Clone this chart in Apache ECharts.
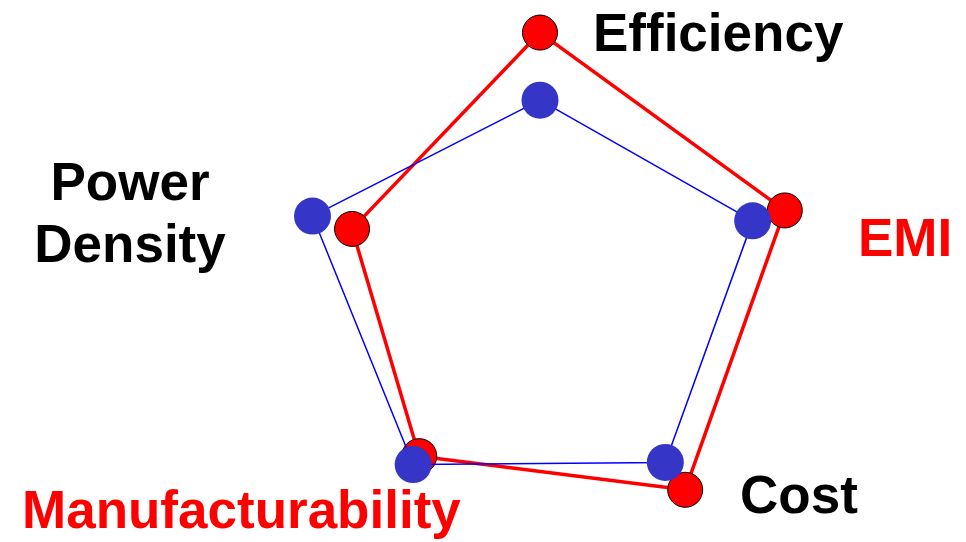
<!DOCTYPE html>
<html lang="en">
<head>
    <meta charset="UTF-8">
    <title>Radar comparison</title>
    <script src="https://cdn.jsdelivr.net/npm/echarts@6.0.0/dist/echarts.min.js"></script>
    <style>
        body, html {
            margin: 0;
            padding: 0;
            width: 100%;
            height: 100%;
            background-color: #fff;
            overflow: hidden;
        }
        #main {
            width: 966px;
            height: 542px;
        }
    </style>
</head>
<body>
    <div id="main"></div>
    <script>
        // axes in ECharts order (counter-clockwise from the top)
        const indicators = ['Efficiency', 'Power Density', 'Manufacturability', 'Cost', 'EMI'];
        const redValues = [99, 76, 79, 95, 99];
        const blueValues = [73, 92, 83, 82, 86];

        // label colours (one per axis)
        const labelColors = ['#000', '#000', '#ff0000', '#000', '#ff0000'];

        var myChart = echarts.init(document.getElementById('main'));

        const labelFont = 'bold 53px "Liberation Sans", Arial, sans-serif';

        // axis names sit off the ends like in the slide, so draw them as text
        const labelPos = [
            { x: 593, y: 36, align: 'left' },
            { x: 130, y: 216, align: 'center' },
            { x: 22, y: 513, align: 'left' },
            { x: 740, y: 498, align: 'left' },
            { x: 858, y: 241, align: 'left' }
        ];

        const option = {
            backgroundColor: '#fff',
            radar: {
                center: ['55.9%', '53.5%'],
                radius: 260,
                startAngle: 90,
                shape: 'polygon',
                indicator: indicators.map(name => ({ name: name, min: 0, max: 100 })),
                axisName: { show: false },
                axisLine: { show: false },
                axisTick: { show: false },
                axisLabel: { show: false },
                splitLine: { show: false },
                splitArea: { show: false }
            },
            series: [
                {
                    type: 'radar',
                    symbol: 'circle',
                    symbolSize: 35,
                    lineStyle: { color: '#ff0000', width: 3.5 },
                    itemStyle: { color: '#ff0000', borderColor: '#000', borderWidth: 1 },
                    z: 2,
                    data: [{ value: redValues, name: 'Red' }]
                },
                {
                    type: 'radar',
                    symbol: 'circle',
                    symbolSize: 37,
                    lineStyle: { color: '#0000ff', width: 1.5 },
                    itemStyle: { color: '#3535c8', borderWidth: 0 },
                    z: 3,
                    data: [{ value: blueValues, name: 'Blue' }]
                }
            ],
            graphic: indicators.map((name, i) => ({
                type: 'text',
                z: 10,
                style: {
                    text: name.replace(' ', '\n'),
                    x: labelPos[i].x,
                    y: labelPos[i].y,
                    fill: labelColors[i],
                    font: labelFont,
                    lineHeight: 62,
                    align: labelPos[i].align,
                    verticalAlign: 'middle'
                }
            }))
        };

        myChart.setOption(option);
    </script>
</body>
</html>
